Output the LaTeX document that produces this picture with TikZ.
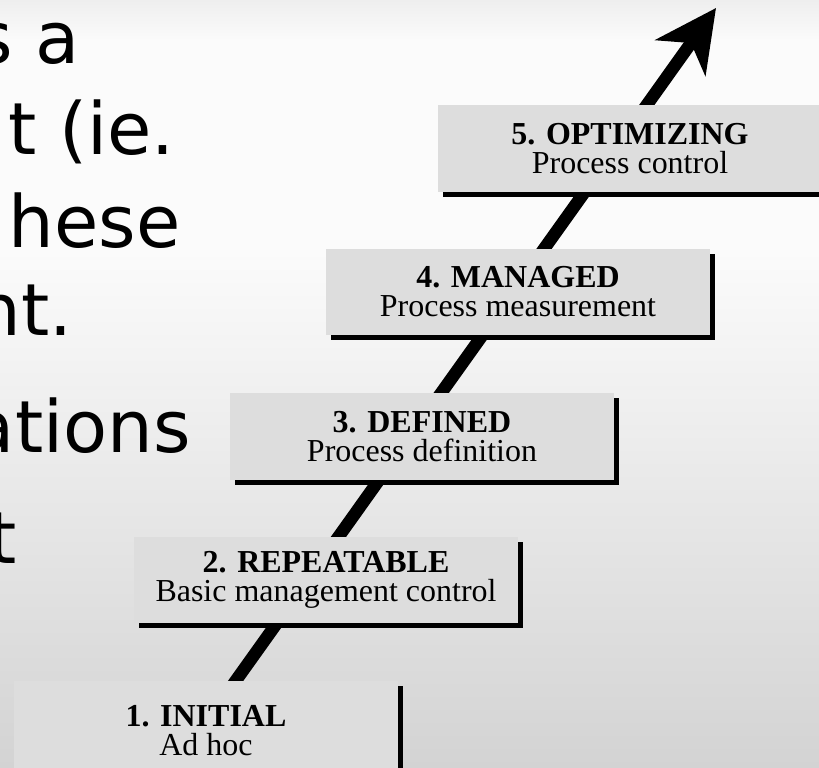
\documentclass[tikz,border=0pt]{standalone}
\usepackage{fontspec}
\setmainfont{Liberation Serif}
\newfontfamily\slidefont{DejaVu Sans}
\usetikzlibrary{shadows}
\usetikzlibrary{arrows.meta}
\definecolor{boxgray}{HTML}{DDDDDD}
\definecolor{bgtop}{HTML}{EEEEEE}
\definecolor{bglight}{HTML}{FBFBFB}
\definecolor{bgbottom}{HTML}{D3D3D3}
\tikzset{
    levelbox/.style = {rectangle, fill=boxgray, align=center, inner sep=0pt, outer sep=0pt, minimum width=7.68cm, minimum height=1.74cm, font=\fontsize{18.2}{16.5}\selectfont, general shadow={fill=black, shadow xshift=0.1cm, shadow yshift=-0.1cm}},
    slidetext/.style = {anchor=base east, inner sep=0pt, font=\slidefont\fontsize{41}{49}\selectfont},
    growth/.style = {-{Stealth[length=1.22cm, width=1.22cm, inset=0.36cm]}, line width=0.25cm},
}
\begin{document}
\begin{tikzpicture}[x=0.02cm,y=-0.02cm]
\useasboundingbox (0,0) rectangle (819,768);
\clip (0,0) rectangle (819,768);
% slide background
\fill[top color=bgtop, bottom color=bglight] (0,0) rectangle (819,40);
\fill[bglight] (0,40) rectangle (819,250);
\fill[top color=bglight, bottom color=bgbottom] (0,250) rectangle (819,768);
% slide text, cut at the left edge
\node[slidetext] at (80,63) (lineone) {s a};
\node[slidetext] at (175,154) (linetwo) {t (ie.};
\node[slidetext] at (181,247) (linethree) {hese};
\node[slidetext] at (73,335) (linefour) {nt.};
\node[slidetext] at (191,452) (linefive) {ations};
\node[slidetext] at (17,563) (linesix) {t};
% staircase
\coordinate (start) at (222,700);
\coordinate (tip) at (716,8);
\draw[growth] (start) -- (tip);
\node[levelbox, minimum height=2cm] at (206,731) (initial) {\textbf{1. INITIAL}\\Ad hoc};
\node[levelbox] at (326,580) (repeatable) {\textbf{2. REPEATABLE}\\Basic management control};
\node[levelbox] at (422,436.5) (defined) {\textbf{3. DEFINED}\\Process definition};
\node[levelbox] at (518,292) (managed) {\textbf{4. MANAGED}\\Process measurement};
\node[levelbox] at (630,148.5) (optimizing) {\textbf{5. OPTIMIZING}\\Process control};
\end{tikzpicture}
\end{document}
